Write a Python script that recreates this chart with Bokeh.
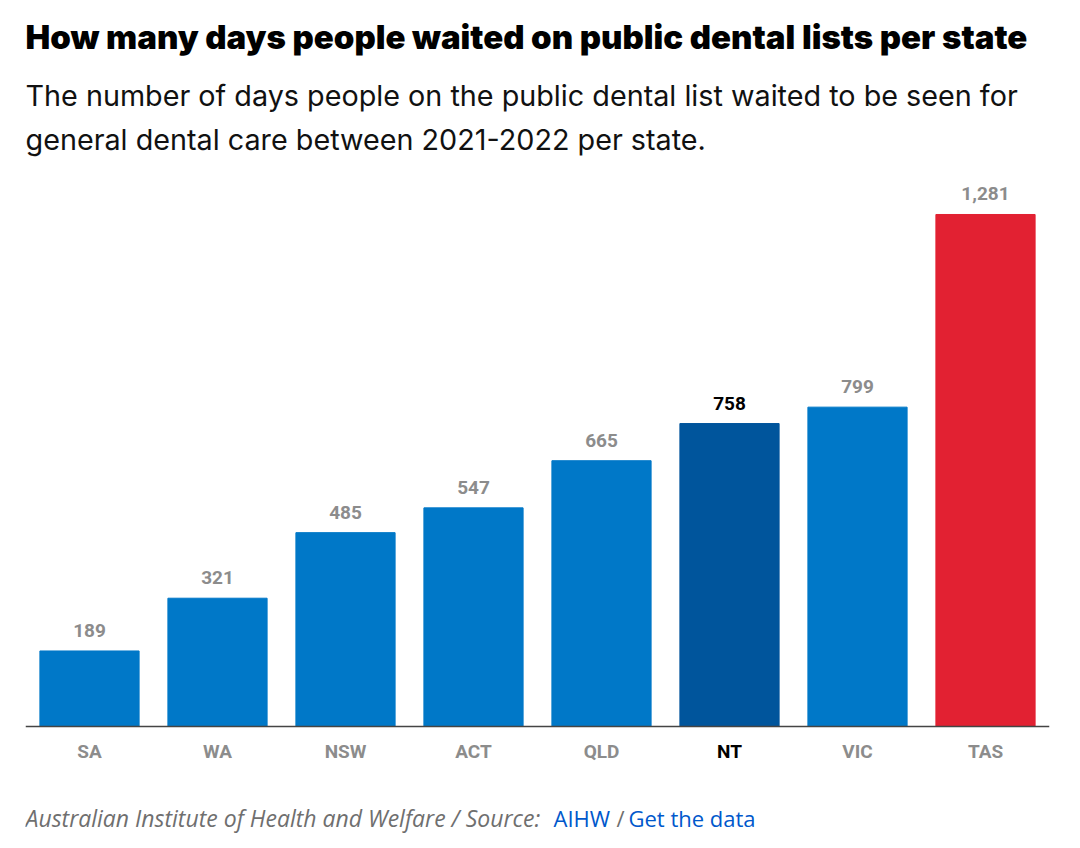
from bokeh.plotting import figure
from bokeh.models import ColumnDataSource, FactorRange, Range1d, LabelSet, Label, Span
from bokeh.core.properties import value
from bokeh.embed import file_html
from bokeh.resources import INLINE

states = ["SA", "WA", "NSW", "ACT", "QLD", "NT", "VIC", "TAS"]
days = [189, 321, 485, 547, 665, 758, 799, 1281]
bar_colors = ["#0078C8", "#0078C8", "#0078C8", "#0078C8", "#0078C8", "#00559C", "#0078C8", "#E22132"]
label_colors = ["#8C8C8C", "#8C8C8C", "#8C8C8C", "#8C8C8C", "#8C8C8C", "#000000", "#8C8C8C", "#8C8C8C"]
value_text = ["{:,}".format(d) for d in days]

title = "How many days people waited on public dental lists per state"
subtitle1 = "The number of days people on the public dental list waited to be seen for"
subtitle2 = "general dental care between 2021-2022 per state."

W, H = 1072, 840
src = ColumnDataSource(dict(state=states, days=days, color=bar_colors,
                            lcolor=label_colors, vtext=value_text,
                            zero=[0] * len(states)))

p = figure(width=W, height=H, x_range=FactorRange(*states, range_padding=0),
           y_range=Range1d(-285.2, 1816.4), output_backend="svg", toolbar_location=None,
           min_border_left=25, min_border_right=23, min_border_top=0,
           min_border_bottom=0, outline_line_color=None)

p.vbar(x="state", top="days", width=0.775, color="color", source=src)

p.xgrid.visible = False
p.ygrid.visible = False
p.xaxis.visible = False
p.yaxis.visible = False
p.add_layout(Span(location=0, dimension="width", line_color="#444444", line_width=1.5))

vals = LabelSet(x="state", y="days", text="vtext", source=src, text_align="center",
                text_baseline="alphabetic", y_offset=14, text_color="lcolor",
                text_font=value("Roboto"), text_font_style="bold", text_font_size="19px")
p.add_layout(vals)

ticks = LabelSet(x="state", y="zero", text="state", source=src, text_align="center",
                 text_baseline="alphabetic", y_offset=-31, text_color="lcolor",
                 text_font=value("Roboto"), text_font_style="bold", text_font_size="19px")
p.add_layout(ticks)

def lab(text, x, y, size, color, style="normal", font="Inter"):
    p.add_layout(Label(x=x, y=y, x_units="screen", y_units="screen", text=text,
                       text_font=font, text_font_size=size, text_color=color,
                       text_font_style=style, text_baseline="alphabetic", text_align="left"))

dy = 8
lab(title, 0, H - 47.5 + dy + 3, "33px", "#000000", "bold", "Inter Black")
lab(subtitle1, 0, H - 103 + dy, "28.75px", "#111111")
lab(subtitle2, 0, H - 146.5 + dy, "28.75px", "#111111")

fy = H - 827 + dy + 1.5
lab("Australian Institute of Health and Welfare / Source: ", 0, fy, "23px", "#6F6F6F", "italic", "Open Sans")
lab("AIHW", 528, fy, "22px", "#0058CC", "normal", "Open Sans")
lab("/", 591, fy, "22px", "#6F6F6F", "normal", "Open Sans")
lab("Get the data", 603, fy, "22px", "#0058CC", "normal", "Open Sans")

open("out.html", "w").write(file_html(p, INLINE))
